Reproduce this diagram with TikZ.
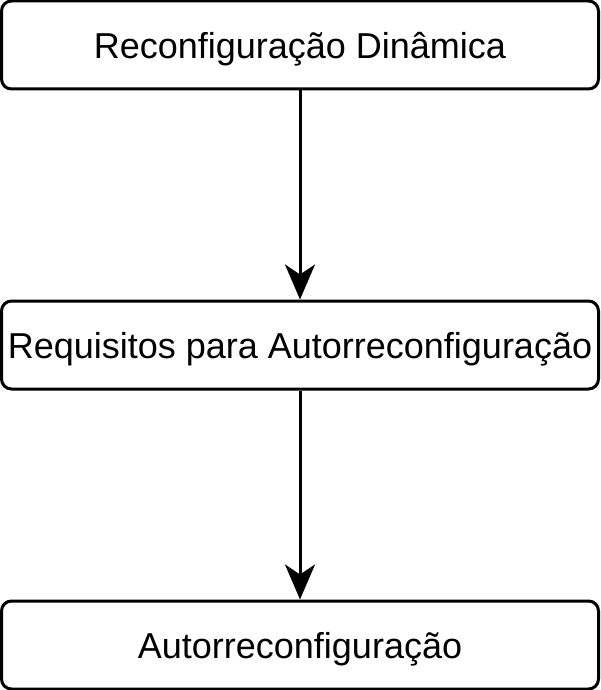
\documentclass[tikz,border=0pt]{standalone}
\usepackage{fontspec}
\setmainfont{Liberation Sans}
\usetikzlibrary{arrows.meta}
\begin{document}
\begin{tikzpicture}[x=1pt,y=-1pt,
  box/.style={draw=black,line width=3pt,rounded corners=10pt,minimum width=597pt,minimum height=88pt,inner sep=0pt,fill=white,text height=27pt,text depth=0pt,font=\fontsize{36}{40}\selectfont},
  conn/.style={line width=3pt,-{Stealth[length=35pt,width=30pt,inset=10pt]}}]
\useasboundingbox (0,0) rectangle (600,690);
\node[box] (a) at (300,45) {Reconfiguração Dinâmica};
\node[box] (b) at (300,345) {Requisitos para Autorreconfiguração};
\node[box] (c) at (300,645) {Autorreconfiguração};
\draw[conn] (a) -- (b);
\draw[conn] (b) -- (c);
\end{tikzpicture}
\end{document}
